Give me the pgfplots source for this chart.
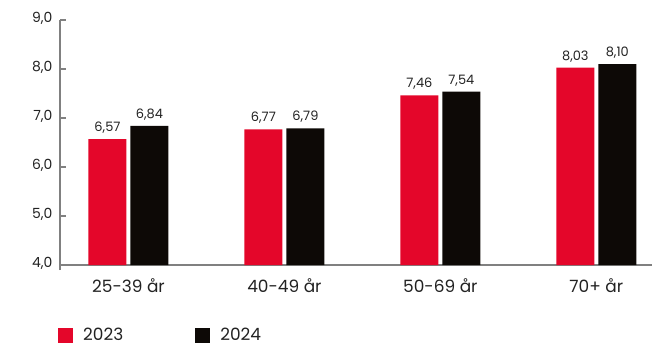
\documentclass[border=0pt]{standalone}
\usepackage{fontspec}
\setmainfont{Poppins}
\usepackage{pgfplots}
\pgfplotsset{compat=1.18}
\definecolor{barred}{HTML}{E4062A}
\definecolor{barblack}{HTML}{0D0906}
\definecolor{axgray}{HTML}{808080}
\definecolor{txt}{HTML}{222222}
\begin{document}
\begin{tikzpicture}
\path[use as bounding box] (-60bp,-81bp) rectangle (592bp,265bp);
\begin{axis}[
  at={(0,0)}, anchor=south west,
  scale only axis, width=592bp, height=245bp,
  ymin=4, ymax=9, ytick={4,5,6,7,8,9},
  xmin=-0.439, xmax=3.357,
  xtick={0,1,2,3}, xticklabels={25-39 år,40-49 år,50-69 år,70+ år},
  axis x line=bottom, axis y line=left,
  axis line style={-, draw=axgray, line width=1.2bp},
  y axis line style={shorten <=-5bp},
  xtick style={draw=none},
  ytick style={draw=axgray, line width=1.2bp},
  tick align=inside, major tick length=6bp,
  /pgf/number format/assume math mode=true,
  yticklabel style={/pgf/number format/.cd, fixed, fixed zerofill, precision=1, use comma, /tikz/.cd,
     font=\fontsize{14}{16}\selectfont, text=txt, xshift=-4bp, yshift=1.5bp},
  xticklabel style={font=\fontsize{17}{20}\selectfont, text=txt, yshift=-4bp},
  ybar=4bp, bar width=38bp,
  nodes near coords={\pgfmathprintnumber[fixed,fixed zerofill,precision=2,use comma,assume math mode=true]{\pgfplotspointmeta}},
  every node near coord/.append style={font=\fontsize{13}{15}\selectfont, text=txt, anchor=base, inner sep=0pt, yshift=7.5bp},
  legend style={at={(0,0)}, anchor=north west, xshift=-2bp, yshift=-61bp, draw=none, fill=none, inner sep=0pt,
     font=\fontsize{17}{20}\selectfont, text=txt, /tikz/every even column/.append style={column sep=70bp}},
  legend columns=2, legend cell align=left,
  legend image code/.code={\fill[#1] (0bp,-7.5bp) rectangle (15bp,7.5bp); \path (23bp,0bp);},
]
\addplot[fill=barred, draw=none] coordinates {(0,6.57) (1,6.77) (2,7.46) (3,8.03)};
\addplot[fill=barblack, draw=none] coordinates {(0,6.84) (1,6.79) (2,7.54) (3,8.10)};
\legend{2023,2024}
\end{axis}
\end{tikzpicture}
\end{document}
